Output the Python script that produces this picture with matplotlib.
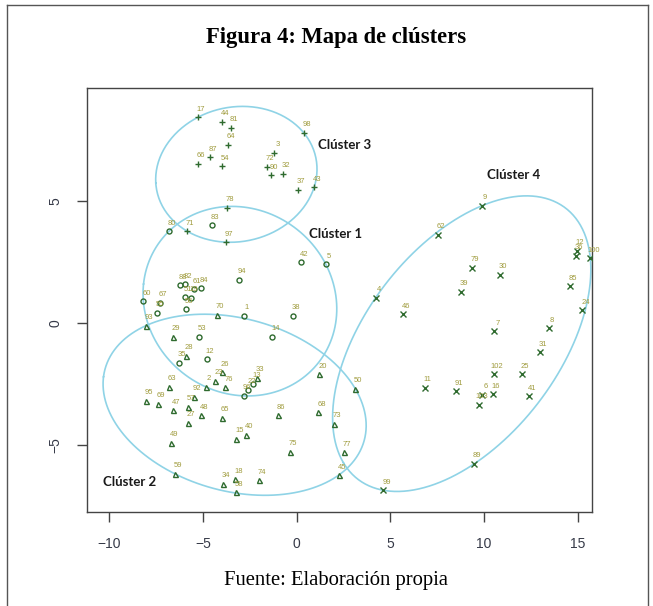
import numpy as np
import matplotlib
matplotlib.use("Agg")
import matplotlib.pyplot as plt
from matplotlib.lines import Line2D

# --------- cluster members (label, x, y) ---------
c1_labels = ["80", "83", "42", "5", "94", "88", "82", "61", "84", "51", "19", "56",
             "60", "67", "55", "1", "38", "53", "14", "12", "35", "96", "13", "22"]
c1_x = [-6.82, -4.52, 0.23, 1.55, -3.08, -6.25, -5.97, -5.47, -5.10, -5.95, -5.66, -5.89,
        -8.19, -7.30, -7.45, -2.82, -0.21, -5.24, -1.30, -4.78, -6.30, -2.80, -2.32, -2.58]
c1_y = [3.76, 4.00, 2.49, 2.41, 1.78, 1.55, 1.59, 1.38, 1.43, 1.05, 1.04, 0.56,
        0.89, 0.83, 0.42, 0.29, 0.30, -0.56, -0.56, -1.48, -1.64, -2.99, -2.50, -2.74]

c2_labels = ["70", "93", "29", "28", "26", "23", "2", "76", "63", "92", "95", "69",
             "47", "57", "48", "27", "65", "49", "15", "40", "59", "34", "18", "58",
             "74", "86", "20", "50", "68", "73", "75", "77", "45", "33"]
c2_x = [-4.26, -8.05, -6.61, -5.91, -3.99, -4.34, -4.85, -3.81, -6.82, -5.47, -8.03, -7.41,
        -6.60, -5.79, -5.13, -5.82, -4.01, -6.71, -3.23, -2.71, -6.52, -3.94, -3.27, -3.24,
        -2.03, -1.00, 1.21, 3.13, 1.16, 1.98, -0.36, 2.51, 2.24, -2.10]
c2_y = [0.34, -0.11, -0.56, -1.34, -2.02, -2.38, -2.61, -2.64, -2.62, -3.02, -3.20, -3.31,
        -3.58, -3.44, -3.78, -4.10, -3.89, -4.91, -4.74, -4.59, -6.18, -6.59, -6.41, -6.94,
        -6.45, -3.78, -2.10, -2.70, -3.66, -4.14, -5.29, -5.30, -6.24, -2.25]

c3_labels = ["17", "44", "81", "64", "87", "66", "54", "3", "72", "90", "32", "98",
             "37", "43", "78", "71", "97"]
c3_x = [-5.28, -3.99, -3.53, -3.69, -4.64, -5.26, -3.99, -1.19, -1.57, -1.39, -0.75, 0.37,
        0.09, 0.93, -3.73, -5.85, -3.78]
c3_y = [8.43, 8.25, 8.00, 7.31, 6.79, 6.52, 6.43, 6.97, 6.41, 6.05, 6.12, 7.80,
        5.45, 5.56, 4.73, 3.76, 3.31]

c4_labels = ["9", "62", "4", "46", "79", "30", "39", "12", "36", "100", "85", "24",
             "7", "8", "31", "102", "25", "11", "91", "6", "16", "103", "41", "89", "99"]
c4_x = [9.88, 7.55, 4.22, 5.69, 9.35, 10.86, 8.76, 14.95, 14.90, 15.68, 14.60, 15.26,
        10.56, 13.46, 12.98, 10.52, 12.04, 6.84, 8.49, 9.91, 10.47, 9.74, 12.39, 9.47, 4.63]
c4_y = [4.80, 3.62, 1.04, 0.36, 2.27, 1.98, 1.28, 2.95, 2.76, 2.65, 1.50, 0.52,
        -0.34, -0.22, -1.20, -2.10, -2.10, -2.66, -2.81, -2.95, -2.92, -3.36, -3.00, -5.78, -6.86]

cluster_names = ["Clúster 1", "Clúster 2", "Clúster 3", "Clúster 4"]
name_x = [2.05, -8.91, 2.57, 11.56]
name_y = [3.65, -6.52, 7.30, 6.07]

x_ticks = [-10, -5, 0, 5, 10, 15]
y_ticks = [-5, 0, 5]


# --------- minimum volume enclosing ellipse (Khachiyan) ----------
def mvee(P, tol=1e-6, max_iter=20000):
    N, d = P.shape
    Q = np.vstack([P.T, np.ones(N)])
    u = np.ones(N) / N
    for _ in range(max_iter):
        X = (Q * u) @ Q.T
        M = np.sum((np.linalg.solve(X, Q)) * Q, axis=0)
        j = np.argmax(M)
        step = (M[j] - d - 1) / ((d + 1) * (M[j] - 1))
        new_u = (1 - step) * u
        new_u[j] += step
        err = np.linalg.norm(new_u - u)
        u = new_u
        if err < tol:
            break
    c = P.T @ u
    A = np.linalg.inv((P.T * u) @ P - np.outer(c, c)) / d
    return c, A


def ellipse_path(xs, ys, n=300):
    P = np.column_stack([xs, ys])
    c, A = mvee(P)
    w, V = np.linalg.eigh(A)
    t = np.linspace(0, 2 * np.pi, n)
    pts = V @ np.diag(1 / np.sqrt(w)) @ np.vstack([np.cos(t), np.sin(t)])
    return c[0] + pts[0], c[1] + pts[1]


fig = plt.figure(figsize=(6.53, 6.06), dpi=100)
ax = fig.add_axes([87 / 653, 1 - 512 / 606, (592 - 87) / 653, (512 - 88) / 606])

mark_col = "#2f6b2f"
lab_col = "#a09c3e"
ell_col = "#8fd3e6"

clusters = [
    (c1_labels, c1_x, c1_y, "o"),
    (c2_labels, c2_x, c2_y, "^"),
    (c3_labels, c3_x, c3_y, "+"),
    (c4_labels, c4_x, c4_y, "x"),
]

for labels, xs, ys, mk in clusters:
    ex, ey = ellipse_path(xs, ys)
    ax.plot(ex, ey, color=ell_col, lw=1.2, zorder=1)
    ax.plot(xs, ys, linestyle="none", marker=mk, ms=3.6 if mk in "o^" else 4.5,
            mfc="none", mec=mark_col, mew=1.0, zorder=3)
    for lb, x, y in zip(labels, xs, ys):
        ax.annotate(lb, (x, y), xytext=(3, 8), textcoords="offset pixels",
                    ha="center", va="center", fontsize=5.5, color=lab_col,
                    family="Liberation Sans", zorder=4)

for nm, x, y in zip(cluster_names, name_x, name_y):
    ax.text(x, y, nm, ha="center", va="center", fontsize=9.5, weight="bold",
            family="Lato", color="#1a1a1a")

ax.set_xlim(-11.20, 15.77)
ax.set_ylim(-7.75, 9.63)
ax.set_xticks(x_ticks)
ax.set_yticks(y_ticks)
ax.set_xticklabels(["\u2212" + str(-v) if v < 0 else str(v) for v in x_ticks])
ax.set_yticklabels(["\u2212" + str(-v) if v < 0 else str(v) for v in y_ticks],
                   rotation=90, va="center")
ax.tick_params(length=7, width=1, color="#444444", labelcolor="#363a48",
               labelsize=10, pad=11)
for lbl in ax.get_xticklabels() + ax.get_yticklabels():
    lbl.set_family("Liberation Sans")
for s in ax.spines.values():
    s.set_color("#444444")
    s.set_linewidth(1)

# page frame, title and source
fig.text(336 / 653, 1 - 37 / 606, "Figura 4: Mapa de clústers", ha="center", va="center",
         family="Liberation Serif", weight="bold", fontsize=16.3)
fig.text(336 / 653, 1 - 580 / 606, "Fuente: Elaboración propia", ha="center", va="center",
         family="Liberation Serif", fontsize=14.9)
frame = dict(transform=fig.transFigure, color="#555555", lw=1)
top = 1 - 5 / 606
fig.add_artist(Line2D([7 / 653, 648 / 653], [top, top], **frame))
fig.add_artist(Line2D([7 / 653] * 2, [0, top], **frame))
fig.add_artist(Line2D([648 / 653] * 2, [0, top], **frame))

fig.savefig("out.png", dpi=100)
